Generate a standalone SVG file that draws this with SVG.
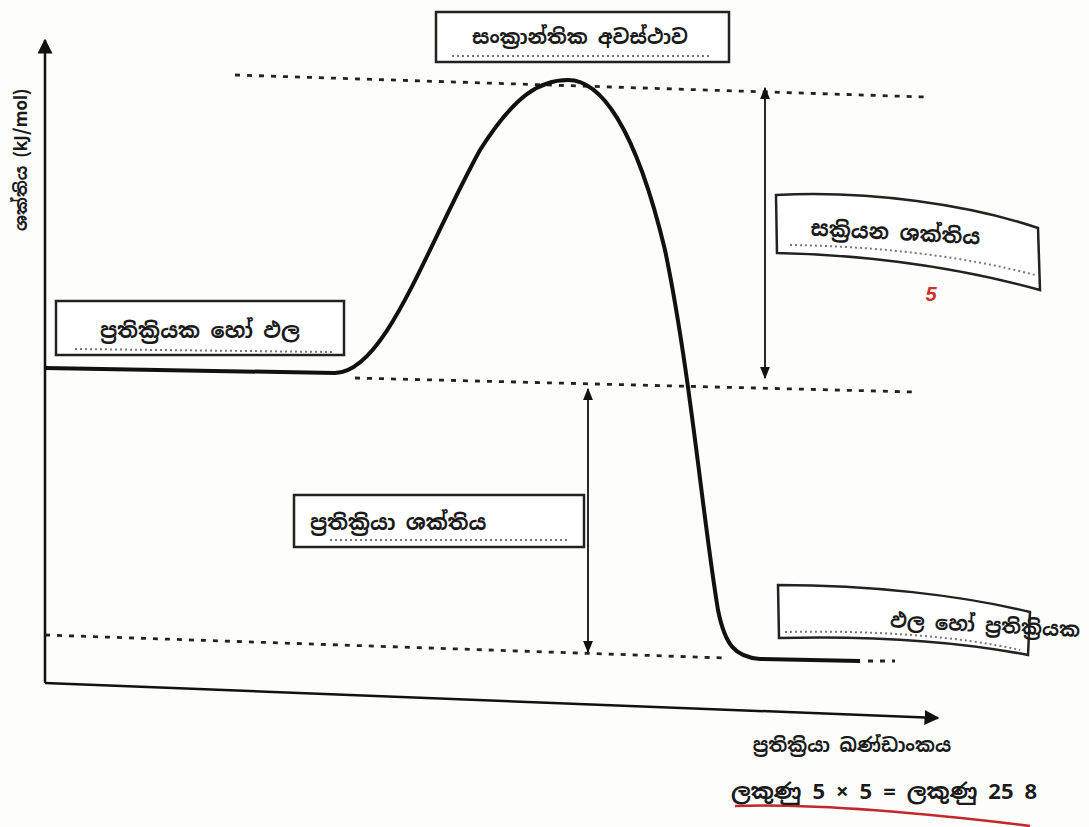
<svg xmlns="http://www.w3.org/2000/svg" width="1089" height="827" viewBox="0 0 1089 827">
<style>
.lbl{font-family:"Noto Sans Sinhala","Noto Sans","DejaVu Sans",sans-serif;font-weight:bold;fill:#1a1a1a}
.box{fill:#fff;stroke:#222;stroke-width:2.5}
.dots{fill:none;stroke:#777;stroke-width:2;stroke-dasharray:2 3}
.dash{fill:none;stroke:#222;stroke-width:2.8;stroke-dasharray:5 7}
.axis{fill:none;stroke:#111;stroke-width:2.5}
.thin{fill:none;stroke:#111;stroke-width:1.8}
</style>
<defs>
<marker id="ah" viewBox="0 0 10 10" refX="9" refY="5" markerWidth="6" markerHeight="6" orient="auto-start-reverse"><path d="M0,0 L10,5 L0,10 z" fill="#111"/></marker>
<marker id="ahs" viewBox="0 0 10 10" refX="9" refY="5" markerWidth="7" markerHeight="7" orient="auto-start-reverse"><path d="M0,1 L10,5 L0,9 z" fill="#111"/></marker>
</defs>
<rect width="1089" height="827" fill="#fdfdfb"/>
<g id="connectors">
<path class="axis" d="M45,683 L45,40" marker-end="url(#ah)"/>
<path class="axis" d="M45,683 L938,718" marker-end="url(#ah)"/>
<path class="dash" d="M235,75 L925,97"/>
<path class="dash" d="M355,378 L915,392"/>
<path class="dash" d="M45,635 L725,658"/>
<path class="dash" d="M868,661 L895,661"/>
<path fill="none" stroke="#111" stroke-width="4" d="M45,368 L335,373 C385,372 425,250 480,150 C515,95 540,80 568,80 C600,80 635,125 665,250 C690,370 703,520 718,610 C725,645 735,657 760,659 L860,661"/>
<path class="thin" d="M765,88 L765,378" marker-start="url(#ahs)" marker-end="url(#ahs)"/>
<path class="thin" d="M588,389 L588,652" marker-start="url(#ahs)" marker-end="url(#ahs)"/>
<path fill="none" stroke="#c0282c" stroke-width="2.5" d="M735,806 C800,804 900,810 1030,826"/>
</g>
<g id="transition-state">
<rect class="box" x="436" y="12" width="293" height="50"/>
<path class="dots" d="M452,56 L712,56"/>
<text class="lbl" x="580" y="44" font-size="20" text-anchor="middle">සංක්‍රාන්තික අවස්ථාව</text>
</g>
<g id="activation-energy">
<path class="box" d="M776,195 C870,190 970,205 1038,228 L1040,290 C960,268 870,255 777,253 Z"/>
<path class="dots" d="M790,245 C870,246 960,255 1035,275"/>
<text class="lbl" x="895" y="240" font-size="21" text-anchor="middle" transform="rotate(3 895 240)">සක්‍රියන ශක්තිය</text>
<text x="931" y="301" font-family="Liberation Sans,sans-serif" font-size="20" font-weight="bold" font-style="italic" fill="#d0302a" text-anchor="middle">5</text>
</g>
<g id="reactants">
<rect class="box" x="56" y="301" width="288" height="54"/>
<path class="dots" d="M75,349 L332,352"/>
<text class="lbl" x="200" y="338" font-size="21" text-anchor="middle">ප්‍රතික්‍රියක හෝ ඵල</text>
</g>
<g id="reaction-energy">
<rect class="box" x="294" y="495" width="290" height="52"/>
<path class="dots" d="M330,540 L570,540"/>
<text class="lbl" x="310" y="530" font-size="21">ප්‍රතික්‍රියා ශක්තිය</text>
</g>
<g id="products">
<path class="box" d="M778,585 C870,585 960,595 1030,612 L1028,655 C950,640 860,636 779,638 Z"/>
<path class="dots" d="M785,632 C870,630 960,636 1020,650"/>
<text class="lbl" x="1080" y="633" font-size="20" text-anchor="end" transform="rotate(3 1000 630)">ඵල හෝ ප්‍රතික්‍රියක</text>
</g>
<g id="y-label">
<text class="lbl" x="0" y="0" font-size="17" font-weight="normal" text-anchor="middle" transform="translate(27,160) rotate(-90)">ශක්තිය (kJ/mol)</text>
</g>
<g id="x-label">
<text class="lbl" x="852" y="752" font-size="19" font-weight="normal" text-anchor="middle">ප්‍රතික්‍රියා ඛණ්ඩාංකය</text>
</g>
<g id="marks">
<text class="lbl" x="884" y="799" font-size="22" text-anchor="middle">ලකුණු 5 × 5 = ලකුණු 25 8</text>
</g>
</svg>
